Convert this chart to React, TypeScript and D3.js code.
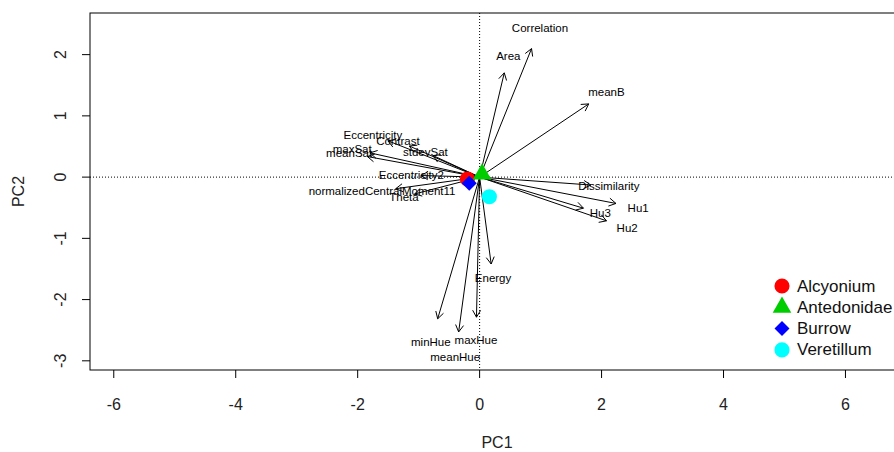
import { useEffect, useRef } from "react";
import * as d3 from "d3";

// variable loadings (label positions, PC1 / PC2)
const variables = [
  "Correlation", "Area", "meanB", "Dissimilarity", "Hu1", "Hu2", "Hu3", "Energy",
  "minHue", "maxHue", "meanHue", "Eccentricity", "Contrast", "maxSat", "meanSat",
  "stdevSat", "Eccentricity2", "normalizedCentralMoment11", "Theta",
];
const loadPC1 = [0.99, 0.47, 2.08, 2.12, 2.6, 2.42, 1.98, 0.22, -0.8, -0.06, -0.4, -1.75, -1.34, -2.09, -2.14, -0.89, -1.12, -1.6, -1.24];
const loadPC2 = [2.44, 1.98, 1.39, -0.15, -0.5, -0.83, -0.59, -1.65, -2.69, -2.66, -2.94, 0.69, 0.59, 0.46, 0.39, 0.41, 0.03, -0.22, -0.32];

// group centroids
const groups = ["Alcyonium", "Antedonidae", "Burrow", "Veretillum"];
const groupPC1 = [-0.2, 0.04, -0.17, 0.16];
const groupPC2 = [-0.03, 0.05, -0.1, -0.32];

const xTicks = [-6, -4, -2, 0, 2, 4, 6];
const yTicks = [-3, -2, -1, 0, 1, 2];

const colors = ["#ff0000", "#00cd00", "#0000ff", "#00ffff"];
const symbols = [d3.symbolCircle, d3.symbolTriangle, d3.symbolSquare, d3.symbolCircle];
const symSizes = [180, 150, 112, 180];
const symRotate = [0, 0, 45, 0];

const W = 894;
const H = 452;
const ARROW_SHRINK = 0.86;
const FONT = "'Liberation Sans', Arial, sans-serif";

export default function App() {
  const svgRef = useRef<SVGSVGElement>(null);

  useEffect(() => {
    if (!svgRef.current) return;
    const svg = d3.select(svgRef.current);
    svg.selectAll("*").remove();

    const left = 90, top = 13, right = 904, bottom = 370;
    const x = d3.scaleLinear().domain([-6.39, 6.96]).range([left, right]);
    const y = d3.scaleLinear().domain([-3.15, 2.68]).range([bottom, top]);

    const g = svg.append("g").attr("font-family", FONT);

    // zero reference lines
    g.append("line")
      .attr("x1", left).attr("x2", right)
      .attr("y1", y(0)).attr("y2", y(0))
      .attr("stroke", "#000").attr("stroke-dasharray", "1,2");
    g.append("line")
      .attr("x1", x(0)).attr("x2", x(0))
      .attr("y1", top).attr("y2", bottom)
      .attr("stroke", "#000").attr("stroke-dasharray", "1,2");

    // loading arrows
    const head = 8;
    const arrows = g.append("g").attr("stroke", "#000").attr("fill", "none").attr("stroke-width", 1);
    variables.forEach((_, i) => {
      const x1 = x(0), y1 = y(0);
      const x2 = x(loadPC1[i] * ARROW_SHRINK), y2 = y(loadPC2[i] * ARROW_SHRINK);
      const ang = Math.atan2(y2 - y1, x2 - x1);
      const p = d3.path();
      p.moveTo(x1, y1);
      p.lineTo(x2, y2);
      p.moveTo(x2 - head * Math.cos(ang - Math.PI / 6), y2 - head * Math.sin(ang - Math.PI / 6));
      p.lineTo(x2, y2);
      p.lineTo(x2 - head * Math.cos(ang + Math.PI / 6), y2 - head * Math.sin(ang + Math.PI / 6));
      arrows.append("path").attr("d", p.toString());
    });

    // loading labels
    g.append("g")
      .selectAll("text")
      .data(variables)
      .join("text")
      .attr("x", (_, i) => x(loadPC1[i]))
      .attr("y", (_, i) => y(loadPC2[i]))
      .attr("text-anchor", "middle")
      .attr("dominant-baseline", "central")
      .attr("font-size", "11.5px")
      .attr("fill", "#000")
      .text((d) => d);

    // group points
    g.append("g")
      .selectAll("path")
      .data(groups)
      .join("path")
      .attr("d", (_, i) => d3.symbol(symbols[i], symSizes[i])())
      .attr("transform", (_, i) => `translate(${x(groupPC1[i])},${y(groupPC2[i])}) rotate(${symRotate[i]})`)
      .attr("fill", (_, i) => colors[i]);

    // frame
    g.append("rect")
      .attr("x", left).attr("y", top)
      .attr("width", right - left).attr("height", bottom - top)
      .attr("fill", "none").attr("stroke", "#000");

    // x axis
    const xa = g.append("g");
    xa.selectAll("line")
      .data(xTicks)
      .join("line")
      .attr("x1", (d) => x(d)).attr("x2", (d) => x(d))
      .attr("y1", bottom).attr("y2", bottom + 8)
      .attr("stroke", "#000");
    xa.selectAll("text")
      .data(xTicks)
      .join("text")
      .attr("x", (d) => x(d))
      .attr("y", 404)
      .attr("text-anchor", "middle")
      .attr("dominant-baseline", "central")
      .attr("font-size", "16px")
      .attr("fill", "#222")
      .text((d) => d);

    // y axis
    const ya = g.append("g");
    ya.selectAll("line")
      .data(yTicks)
      .join("line")
      .attr("x1", left - 8).attr("x2", left)
      .attr("y1", (d) => y(d)).attr("y2", (d) => y(d))
      .attr("stroke", "#000");
    ya.selectAll("text")
      .data(yTicks)
      .join("text")
      .attr("transform", (d) => `translate(60,${y(d)}) rotate(-90)`)
      .attr("text-anchor", "middle")
      .attr("dominant-baseline", "central")
      .attr("font-size", "16px")
      .attr("fill", "#222")
      .text((d) => d);

    // axis titles
    g.append("text")
      .attr("x", (left + right) / 2).attr("y", 442)
      .attr("text-anchor", "middle").attr("dominant-baseline", "central")
      .attr("font-size", "16px").attr("fill", "#222")
      .text("PC1");
    g.append("text")
      .attr("transform", `translate(18,${(top + bottom) / 2}) rotate(-90)`)
      .attr("text-anchor", "middle").attr("dominant-baseline", "central")
      .attr("font-size", "16px").attr("fill", "#222")
      .text("PC2");

    // legend
    const lg = g.append("g").attr("transform", "translate(782,286)");
    const items = lg.selectAll("g").data(groups).join("g")
      .attr("transform", (_, i) => `translate(0,${i * 21.3})`);
    items.append("path")
      .attr("d", (_, i) => d3.symbol(symbols[i], symSizes[i])())
      .attr("transform", (_, i) => `rotate(${symRotate[i]})`)
      .attr("fill", (_, i) => colors[i]);
    items.append("text")
      .attr("x", 15)
      .attr("dominant-baseline", "central")
      .attr("font-size", "17px")
      .attr("fill", "#111")
      .text((d) => d);
  }, []);

  return (
    <div style={{ position: "absolute", left: 0, top: 0, width: W, height: H, overflow: "hidden", background: "#fff" }}>
      <svg ref={svgRef} width={W} height={H} style={{ display: "block" }} />
    </div>
  );
}
